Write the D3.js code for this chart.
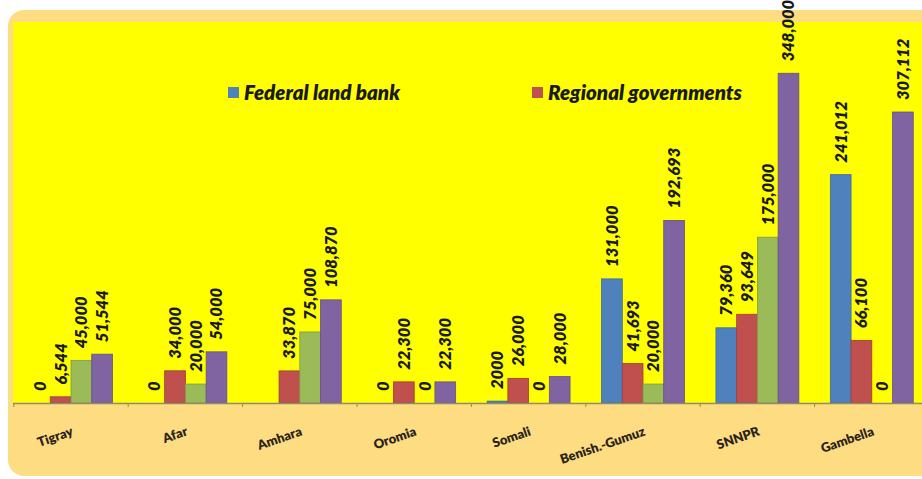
<!DOCTYPE html>
<html>
<head>
<meta charset="utf-8">
<script src="https://cdn.jsdelivr.net/npm/d3@7"></script>
<style>
  html, body { margin: 0; padding: 0; background: #ffffff; }
  svg { display: block; }
</style>
</head>
<body>
<svg id="chart" width="922" height="479"></svg>
<script>
// Land allocated per region (hectares)
const regions = ["Tigray", "Afar", "Amhara", "Oromia", "Somali", "Benish.-Gumuz", "SNNPR", "Gambella"];
const federalLandBank = [0, 0, null, 0, 2000, 131000, 79360, 241012];
const regionalGovernments = [6544, 34000, 33870, 22300, 26000, 41693, 93649, 66100];
const otherAllocations = [45000, 20000, 75000, 0, 0, 20000, 175000, 0];
const totals = [51544, 54000, 108870, 22300, 28000, 192693, 348000, 307112];

const seriesNames = ["Federal land bank", "Regional governments", "Other", "Total"];
const seriesValues = [federalLandBank, regionalGovernments, otherAllocations, totals];
const seriesColors = ["#4f81bd", "#c0504d", "#9bbb59", "#8064a2"];
const seriesStrokes = ["#3d6a9e", "#9e3c3a", "#7e9a45", "#66508a"];
const legendNames = ["Federal land bank", "Regional governments"];
const yMax = 400000;

const svg = d3.select("#chart");

// Chart frame: pale orange rounded panel with a yellow plot area
svg.append("rect")
  .attr("x", 8).attr("y", 10).attr("width", 940).attr("height", 466)
  .attr("rx", 16).attr("ry", 16)
  .attr("fill", "#fedd82");

const plotLeft = 13, plotTop = 22, plotBottom = 403;
svg.append("rect")
  .attr("x", plotLeft).attr("y", plotTop)
  .attr("width", 922 - plotLeft).attr("height", plotBottom - plotTop)
  .attr("fill", "#ffff00");

const x0 = d3.scaleBand().domain(regions).range([13.8, 929]).paddingInner(0).paddingOuter(0);
const x1 = d3.scaleBand().domain(seriesNames).range([0, x0.bandwidth()]).paddingInner(0).paddingOuter(0.76);
const y = d3.scaleLinear().domain([0, yMax]).range([plotBottom, 24]);

// Bars
const cells = [];
regions.forEach((r, i) => {
  seriesNames.forEach((s, j) => {
    const v = seriesValues[j][i];
    if (v !== null) cells.push({ region: r, series: s, idx: j, value: v });
  });
});

const bars = svg.append("g");
bars.selectAll("rect")
  .data(cells.filter(d => d.value > 0))
  .join("rect")
  .attr("x", d => x0(d.region) + x1(d.series))
  .attr("y", d => y(d.value))
  .attr("width", x1.bandwidth())
  .attr("height", d => y(0) - y(d.value))
  .attr("fill", d => seriesColors[d.idx])
  .attr("stroke", d => seriesStrokes[d.idx])
  .attr("stroke-width", 0.8);

// Value labels, rotated to read upwards
const fmt = v => (v === 2000 ? "2000" : d3.format(",")(v));
svg.append("g").selectAll("text")
  .data(cells)
  .join("text")
  .attr("transform", d => {
    const cx = x0(d.region) + x1(d.series) + x1.bandwidth() / 2;
    return `translate(${cx},${y(d.value) - 12}) rotate(-90)`;
  })
  .attr("dy", "0.36em")
  .attr("text-anchor", "start")
  .attr("font-family", "Lato, 'Open Sans', sans-serif")
  .attr("font-weight", 800)
  .attr("font-style", "italic")
  .attr("font-size", 16.5)
  .attr("fill", "#1a1a1a")
  .text(d => fmt(d.value));

// Category axis
const axis = d3.axisBottom(x0).tickSize(0).tickFormat("");
const axisG = svg.append("g")
  .attr("transform", `translate(0,${plotBottom})`)
  .call(axis);
axisG.select(".domain").attr("stroke", "#8f8c6a").attr("stroke-width", 1.5)
  .attr("d", `M${plotLeft},0.5H922`);

// Tick marks at band boundaries
svg.append("g").selectAll("line")
  .data(regions)
  .join("line")
  .attr("x1", d => x0(d)).attr("x2", d => x0(d))
  .attr("y1", plotBottom).attr("y2", plotBottom + 4)
  .attr("stroke", "#8f8c6a").attr("stroke-width", 1);

// Category labels, slanted
svg.append("g").selectAll("text")
  .data(regions)
  .join("text")
  .attr("transform", d => `translate(${x0(d) + x0.bandwidth() / 2 + 3},${435}) rotate(-19)`)
  .attr("text-anchor", "end")
  .attr("font-family", "Lato, 'Open Sans', sans-serif")
  .attr("font-weight", 800)
  .attr("font-size", 13)
  .attr("fill", "#2a2418")
  .text(d => d);

// Legend
const legendX = [228, 532];
const legend = svg.append("g");
legendNames.forEach((name, i) => {
  legend.append("rect")
    .attr("x", legendX[i]).attr("y", 87)
    .attr("width", 11).attr("height", 11)
    .attr("fill", seriesColors[i]);
  legend.append("text")
    .attr("x", legendX[i] + 16).attr("y", 100)
    .attr("font-family", "Lato, 'Open Sans', sans-serif")
    .attr("font-weight", 800)
    .attr("font-style", "italic")
    .attr("font-size", 20.5)
    .attr("fill", "#1a1a1a")
    .text(name);
});
</script>
</body>
</html>
